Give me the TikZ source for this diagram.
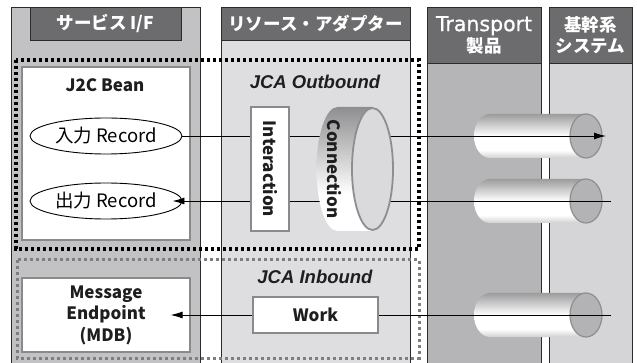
\documentclass[tikz,border=0pt]{standalone}
\usepackage{fontspec}
\setmainfont{Noto Sans CJK JP}
\newfontfamily\headlatin{DejaVu Sans}[FakeBold=0.9]
\newfontfamily\jcafont{Liberation Sans}
\usetikzlibrary{arrows.meta,shapes.geometric}

\definecolor{colA}{HTML}{C2C2C4}
\definecolor{colB}{HTML}{DEDEE0}
\definecolor{colC}{HTML}{B5B5B7}
\definecolor{colD}{HTML}{D5D5D7}
\definecolor{headfill}{HTML}{6C6C6E}
\definecolor{rulec}{HTML}{2B2B2B}
\definecolor{boxline}{HTML}{8A8A8C}
\definecolor{pipeHi}{HTML}{9C9C9E}
\definecolor{pipeLo}{HTML}{D0D0D2}
\definecolor{pipeFace}{HTML}{B3B3B5}
\definecolor{pipeEdge}{HTML}{8E8E90}
\definecolor{connHi}{HTML}{8E8E90}
\definecolor{connFace}{HTML}{DADADC}
\definecolor{inboundc}{HTML}{7E7E80}
\definecolor{inkc}{HTML}{1E1E1E}

\pgfdeclareverticalshading{pipebody}{100bp}{color(0bp)=(pipeLo); color(25bp)=(pipeLo); color(34bp)=(white); color(50bp)=(white); color(75bp)=(pipeHi); color(100bp)=(pipeHi)}
\pgfdeclareverticalshading{connbody}{100bp}{color(0bp)=(white); color(25bp)=(white); color(40bp)=(white); color(75bp)=(connHi); color(100bp)=(connHi)}

\tikzset{
  column/.style={draw=rulec, line width=0.9pt},
  header/.style={draw=rulec, fill=headfill, line width=0.9pt, text=white, inner sep=0pt,
    align=center, font=\fontsize{17.5pt}{21pt}\selectfont\bfseries},
  card/.style={draw=boxline, fill=white, line width=1.2pt, inner sep=0pt},
  outline/.style={draw=black, line width=3.6pt, dash pattern=on 3.4pt off 2.6pt},
  inline/.style={draw=inboundc, line width=3pt, dash pattern=on 3.2pt off 2.8pt},
  record/.style={draw=black, line width=0.9pt, ellipse, fill=white, inner sep=0pt,
    minimum width=152pt, minimum height=36pt},
  flow/.style={draw=black, line width=0.9pt, -{Latex[length=12pt,width=7pt]}},
  jca/.style={text=inkc, font=\jcafont\bfseries\itshape\fontsize{18.5pt}{20pt}\selectfont},
  bold/.style={text=inkc, font=\fontsize{17pt}{21.5pt}\selectfont\bfseries}
}

\begin{document}
\begin{tikzpicture}[x=1pt, y=-1pt, font=\fontsize{18.5pt}{22pt}\selectfont]
\useasboundingbox (0,0) rectangle (637,363);
\fill[white] (0,0) rectangle (637,363);

% four vertical columns
\draw[column, fill=colA] (11,7) rectangle (200,372);
\draw[column, fill=colB] (221,7) rectangle (410,372);
\draw[column, fill=colC] (427,7) rectangle (541,372);
\draw[column, fill=colD] (549,7) rectangle (632,372);

% column headers
\node[header, minimum width=151pt, minimum height=33pt] (hA) at (105.5,23.5) {サービス I/F};
\node[header, minimum width=189pt, minimum height=33pt] (hB) at (315.5,23.5) {リソース・アダプター};
\node[header, minimum width=114pt, minimum height=56pt] (hC) at (484,35) {{\headlatin\mdseries\fontsize{20.5pt}{21pt}\selectfont Transport}\\製品};
\node[header, minimum width=83pt, minimum height=56pt] (hD) at (590.5,35) {基幹系\\システム};

% outbound and inbound regions
\draw[outline] (16,60) rectangle (419,249);
\draw[inline] (17,260) rectangle (419,358);

% service interface boxes
\node[card, minimum width=168pt, minimum height=173pt] (bean) at (106,153.5) {};
\node[bold] (beanlbl) at (105,85) {J2C Bean};
\node[card, bold, align=center, minimum width=168pt, minimum height=74pt] (mdb) at (106,315) {Message\\Endpoint\\(MDB)};

\node[record] (in) at (106,136) {入力 Record};
\node[record] (out) at (106,201) {出力 Record};

% transport pipes
\foreach \py in {136,201,315}{
  \shade[shading=pipebody] (490,\py-22) -- (586,\py-22) -- (586,\py+22) -- (490,\py+22)
    arc[start angle=90, end angle=270, x radius=16, y radius=22] -- cycle;
  \draw[draw=pipeEdge, fill=pipeFace, line width=1.2pt] (586,\py) ellipse [x radius=16, y radius=22];
}

% message flows
\coordinate (rEnd1) at (606,136);
\coordinate (rStart2) at (611,201);
\coordinate (rStart3) at (611,315);
\draw[flow] (in.east) -- (rEnd1);
\draw[flow] (rStart2) -- ([xshift=-10pt]out.east);
\draw[flow] (rStart3) -- ([xshift=-20pt]mdb.east);

% resource adapter parts
\node[jca] (outlbl) at (315,82) {JCA Outbound};
\node[card, bold, rotate=-90, minimum width=124pt, minimum height=38pt] (inter) at (270,169) {Interaction};
\shade[shading=connbody] (337.5,107) -- (372.5,107) -- (372.5,231) -- (337.5,231)
  arc[start angle=90, end angle=270, x radius=21, y radius=62] -- cycle;
\draw[draw=pipeEdge, fill=connFace, line width=1.8pt] (372.5,169) ellipse [x radius=20.5, y radius=61];
\node[bold, rotate=-90] (conn) at (334,169) {Connection};

\node[jca] (inlbl) at (315,277) {JCA Inbound};
\node[card, bold, minimum width=125pt, minimum height=36pt] (work) at (315.5,315) {Work};
\end{tikzpicture}
\end{document}
